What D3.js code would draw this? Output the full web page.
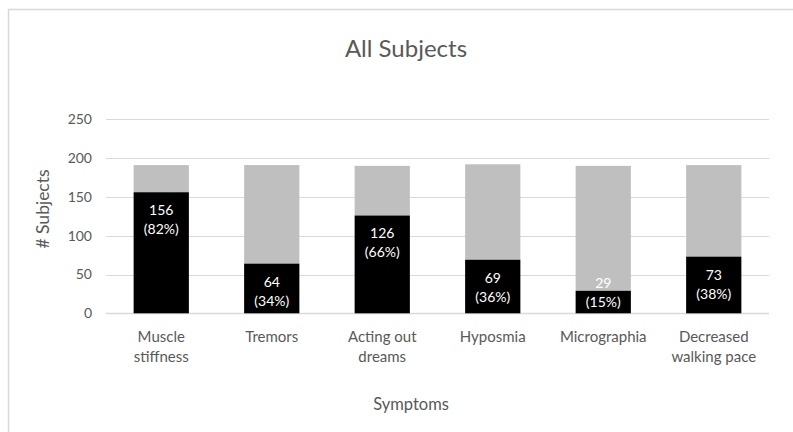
<!DOCTYPE html>
<html>
<head>
<meta charset="utf-8">
<script src="https://cdn.jsdelivr.net/npm/d3@7"></script>
<style>
  html, body { margin: 0; padding: 0; background: #fff; }
  svg { display: block; font-family: Lato, "Open Sans", sans-serif; }
</style>
</head>
<body>
<svg id="chart" width="793" height="432"></svg>
<script>
// Symptom counts for all subjects
const categories = ["Muscle stiffness", "Tremors", "Acting out dreams", "Hyposmia", "Micrographia", "Decreased walking pace"];
const categoryLines = [["Muscle", "stiffness"], ["Tremors"], ["Acting out", "dreams"], ["Hyposmia"], ["Micrographia"], ["Decreased", "walking pace"]];
const yesCounts = [156, 64, 126, 69, 29, 73];
const noCounts = [35, 127, 64, 123, 161, 118];
const yesPercents = [82, 34, 66, 36, 15, 38];
const yTicks = [0, 50, 100, 150, 200, 250];

const svg = d3.select("#chart");

// outer frame
svg.append("path")
  .attr("d", "M8.5,440 V9.5 H800")
  .attr("fill", "none")
  .attr("stroke", "#d9d9d9")
  .attr("stroke-width", 1.5);

const x = d3.scaleBand()
  .domain(categories)
  .range([106, 769])
  .paddingInner(0.5)
  .paddingOuter(0.25);

const y = d3.scaleLinear()
  .domain([0, 250])
  .range([313.3, 119.3]);

// gridlines
svg.append("g")
  .selectAll("line")
  .data(yTicks)
  .join("line")
  .attr("x1", 106)
  .attr("x2", 769)
  .attr("y1", d => Math.round(y(d)) + 0.5)
  .attr("y2", d => Math.round(y(d)) + 0.5)
  .attr("stroke", "#d9d9d9")
  .attr("stroke-width", d => d === 0 ? 1.5 : 1);

// y tick labels
const yAxis = d3.axisLeft(y).tickValues(yTicks).tickSize(0).tickPadding(0);
const gy = svg.append("g").attr("transform", "translate(92,0)").call(yAxis);
gy.select(".domain").remove();
gy.selectAll("text")
  .attr("fill", "#595959")
  .style("font-size", "14px")
  .style("font-family", "Lato, 'Open Sans', sans-serif");

const rows = categories.map((c, i) => ({
  cat: c,
  yes: yesCounts[i],
  no: noCounts[i],
  pct: yesPercents[i],
  lines: categoryLines[i]
}));

// stacked bars: "yes" at the bottom in black, remainder in grey
const bars = svg.append("g");
bars.selectAll("rect.no")
  .data(rows)
  .join("rect")
  .attr("class", "no")
  .attr("x", d => x(d.cat))
  .attr("width", x.bandwidth())
  .attr("y", d => y(d.yes + d.no))
  .attr("height", d => y(d.yes) - y(d.yes + d.no))
  .attr("fill", "#bfbfbf");

bars.selectAll("rect.yes")
  .data(rows)
  .join("rect")
  .attr("class", "yes")
  .attr("x", d => x(d.cat))
  .attr("width", x.bandwidth())
  .attr("y", d => y(d.yes))
  .attr("height", d => y(0) - y(d.yes))
  .attr("fill", "#000");

// value labels inside the top of each black segment
const labelG = svg.append("g")
  .attr("fill", "#fff")
  .attr("text-anchor", "middle")
  .style("font-size", "14px");

rows.forEach(d => {
  const cx = x(d.cat) + x.bandwidth() / 2;
  const first = Math.min(y(d.yes) + 18, y(0) - 30);
  labelG.append("text")
    .attr("x", cx)
    .attr("y", first)
    .attr("dy", "0.35em")
    .text(d.yes);
  labelG.append("text")
    .attr("x", cx)
    .attr("y", first + 19)
    .attr("dy", "0.35em")
    .text(`(${d.pct}%)`);
});

// category labels
const catG = svg.append("g")
  .attr("fill", "#595959")
  .attr("text-anchor", "middle")
  .style("font-size", "15px");
rows.forEach(d => {
  const cx = x(d.cat) + x.bandwidth() / 2;
  d.lines.forEach((ln, j) => {
    catG.append("text")
      .attr("x", cx)
      .attr("y", 342 + j * 19.5)
      .text(ln);
  });
});

// title
svg.append("text")
  .attr("x", 406)
  .attr("y", 57)
  .attr("text-anchor", "middle")
  .attr("fill", "#595959")
  .style("font-size", "24px")
  .text("All Subjects");

// axis titles
svg.append("text")
  .attr("transform", "translate(49,209) rotate(-90)")
  .attr("text-anchor", "middle")
  .attr("fill", "#595959")
  .style("font-size", "17.5px")
  .text("# Subjects");

svg.append("text")
  .attr("x", 411)
  .attr("y", 410)
  .attr("text-anchor", "middle")
  .attr("fill", "#595959")
  .style("font-size", "16.5px")
  .text("Symptoms");
</script>
</body>
</html>
